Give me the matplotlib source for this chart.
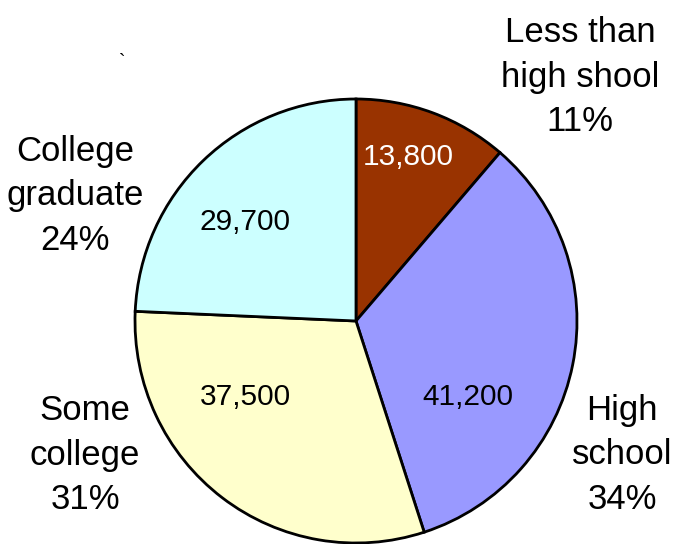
import matplotlib.pyplot as plt

# education levels, values and shares
categories = ['Less than\nhigh shool', 'High\nschool', 'Some\ncollege', 'College\ngraduate']
values = [13800, 41200, 37500, 29700]
percents = ['11%', '34%', '31%', '24%']
colors = ['#993300', '#9999FF', '#FFFFCC', '#CCFFFF']

plt.rcParams['font.family'] = ['Liberation Sans', 'DejaVu Sans']

fig = plt.figure(figsize=(6.8, 5.44), dpi=100)
cx, cy, r = 356, 321, 221
ax = fig.add_axes([(cx - r) / 680, (544 - cy - r - 1) / 544, 2 * r / 680, (2 * r + 2) / 544])

wedges, _ = ax.pie(values, colors=colors, startangle=90, counterclock=False,
                   wedgeprops=dict(edgecolor='black', linewidth=2.0))
for w in wedges:
    w.set_clip_on(False)
ax.set_xlim(-1, 1)
ax.set_ylim(-1, 1)
ax.set_aspect('auto')
ax.axis('off')


def px(x, y):
    return (x - cx) / r, (cy - y) / (r + 1)


# value labels inside the slices
inner_pos = [(408, 157), (468, 397), (245, 397), (245, 222)]
for i, v in enumerate(values):
    x, y = px(*inner_pos[i])
    if i == 0:
        ax.text(x, y, f'{v:,}', ha='center', va='center', fontsize=21.5, color='white',
                bbox=dict(facecolor=colors[0], edgecolor='none', pad=2))
    else:
        ax.text(x, y, f'{v:,}', ha='center', va='center', fontsize=21.5, color='black')

# category labels outside
outer_pos = [(580, 77), (622, 455), (85, 455), (75, 196)]
for i, c in enumerate(categories):
    x, y = px(*outer_pos[i])
    ax.text(x, y, c + '\n' + percents[i], ha='center', va='center', fontsize=25,
            linespacing=1.46, clip_on=False)

fig.text(122 / 680, 1 - 62 / 544, '`', ha='center', va='center', fontsize=14)

fig.savefig('out.png', dpi=100)
